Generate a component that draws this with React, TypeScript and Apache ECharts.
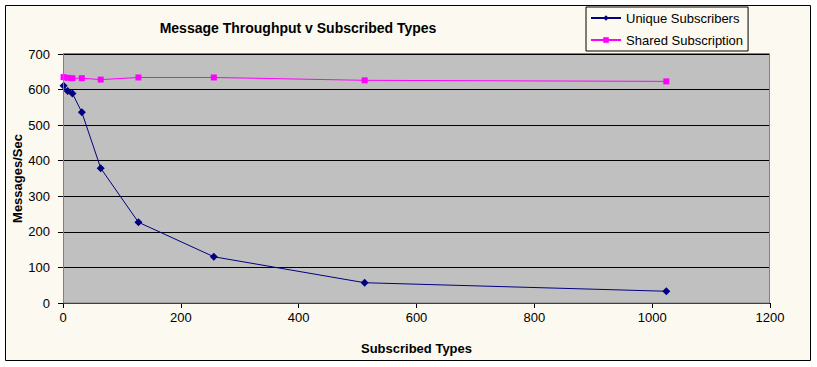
import React, { useEffect, useRef } from "react";
import * as echarts from "echarts";

const subscribedTypes = [1, 8, 16, 32, 64, 128, 256, 512, 1024];
const uniqueSubscribers = [611, 596, 589, 536, 379, 227, 130, 57, 33];
const sharedSubscription = [635, 633, 632, 632, 628, 634, 634, 626, 623];
const seriesNames = ["Unique Subscribers", "Shared Subscription"];
const chartTitle = "Message Throughput v Subscribed Types";
const xAxisName = "Subscribed Types";
const yAxisName = "Messages/Sec";

const FONT = "Arial, 'Liberation Sans', sans-serif";

export default function App() {
  const ref = useRef<HTMLDivElement>(null);
  useEffect(() => {
    if (!ref.current) return;
    const chart = echarts.init(ref.current, undefined, { renderer: "svg" });
    const toPairs = (ys: number[]) => subscribedTypes.map((x, i) => [x, ys[i]]);
    chart.setOption({
      animation: false,
      backgroundColor: "#ffffff",
      textStyle: { fontFamily: FONT },
      graphic: [
        {
          type: "rect",
          z: -10,
          shape: { x: 5.5, y: 5.5, width: 805, height: 355 },
          style: { fill: "#FBF9F0", stroke: "#000000", lineWidth: 1 },
        },
        {
          type: "text",
          x: 298,
          y: 28,
          style: {
            text: chartTitle,
            font: `bold 14px ${FONT}`,
            fill: "#000000",
            textAlign: "center",
            textVerticalAlign: "middle",
          },
        },
        {
          type: "rect",
          z: 100,
          silent: true,
          shape: { x: 63.5, y: 53.5, width: 706, height: 249.5 },
          style: { fill: "none", stroke: "#808080", lineWidth: 1 },
        },
      ],
      legend: {
        orient: "vertical",
        left: 586,
        top: 7,
        padding: [4, 5, 4, 4],
        itemGap: 8,
        itemWidth: 30,
        itemHeight: 7,
        borderColor: "#000000",
        borderWidth: 1,
        backgroundColor: "#FBF9F0",
        textStyle: { fontSize: 13, color: "#000000", fontFamily: FONT, lineHeight: 14 },
        data: seriesNames,
      },
      grid: {
        left: 63,
        top: 54,
        right: 47,
        bottom: 64,
        containLabel: false,
        outerBoundsMode: "none",
        show: true,
        backgroundColor: "#C0C0C0",
        borderColor: "#808080",
        borderWidth: 0,
      },
      xAxis: {
        type: "value",
        min: 0,
        max: 1200,
        interval: 200,
        name: xAxisName,
        nameLocation: "middle",
        nameGap: 39,
        nameMoveOverlap: false,
        nameTextStyle: { fontWeight: "bold", fontSize: 13, color: "#000000", fontFamily: FONT },
        axisLine: { show: true, lineStyle: { color: "#000000", width: 1 } },
        axisTick: { show: true, inside: false, length: 5, lineStyle: { color: "#000000" } },
        axisLabel: {
          margin: 8,
          fontSize: 13,
          color: "#000000",
          fontFamily: FONT,
          formatter: (v: number) => String(v),
        },
        splitLine: { show: false },
      },
      yAxis: {
        type: "value",
        min: 0,
        max: 700,
        interval: 100,
        name: yAxisName,
        nameLocation: "middle",
        nameGap: 39,
        nameMoveOverlap: false,
        nameTextStyle: { fontWeight: "bold", fontSize: 13, color: "#000000", fontFamily: FONT },
        axisLine: { show: true, lineStyle: { color: "#000000", width: 1 } },
        axisTick: { show: true, inside: false, length: 5, lineStyle: { color: "#000000" } },
        axisLabel: {
          margin: 13,
          fontSize: 13,
          color: "#000000",
          fontFamily: FONT,
          formatter: (v: number) => String(v),
        },
        splitLine: { show: true, lineStyle: { color: "#000000", width: 1 } },
      },
      series: [
        {
          name: seriesNames[0],
          type: "line",
          data: toPairs(uniqueSubscribers),
          symbol: "diamond",
          symbolSize: 8,
          itemStyle: { color: "#000080" },
          lineStyle: { color: "#000080", width: 1 },
          z: 3,
        },
        {
          name: seriesNames[1],
          type: "line",
          data: toPairs(sharedSubscription),
          symbol: "rect",
          symbolSize: 6,
          itemStyle: { color: "#FF00FF" },
          lineStyle: { color: "#FF00FF", width: 1 },
          z: 2,
        },
      ],
    });
    return () => chart.dispose();
  }, []);
  return (
    <div
      ref={ref}
      style={{ position: "absolute", left: 0, top: 0, width: 817, height: 367 }}
    />
  );
}
